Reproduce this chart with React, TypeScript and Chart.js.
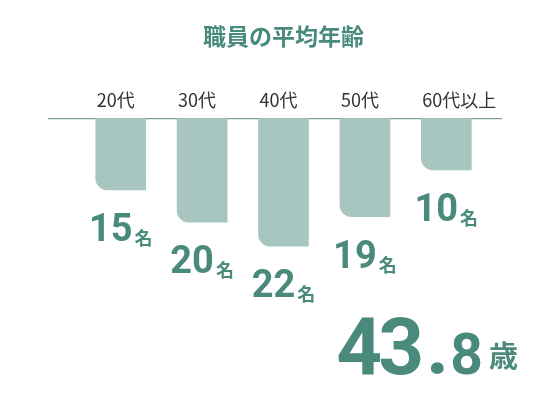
import React, { useEffect, useRef } from "react";
import { Chart, registerables } from "chart.js";

Chart.register(...registerables);

const chartTitle = "職員の平均年齢";
const ageGroups = ["20代", "30代", "40代", "50代", "60代以上"];
const staffCounts = [15, 20, 22, 19, 10];
// bar lengths as they are drawn in the picture (not strictly proportional to the counts)
const barLengths = [14, 20.3, 25, 19.2, 10.1];
const averageAge = 43.8;

const TEAL = "#4a8a7d";
const BAR_FILL = "#a7c6c0";
const NUM_FONT = "Roboto, 'Noto Sans CJK JP', sans-serif";
const JP_FONT = "'Noto Sans CJK JP', sans-serif";

const decorPlugin = {
  id: "decor",
  beforeDatasetsDraw(chart: any) {
    const { ctx, chartArea } = chart;
    ctx.save();
    ctx.strokeStyle = "#5b8880";
    ctx.lineWidth = 1;
    ctx.beginPath();
    ctx.moveTo(chartArea.left - 32, chartArea.top + 0.5);
    ctx.lineTo(chartArea.right + 15, chartArea.top + 0.5);
    ctx.stroke();
    ctx.restore();
  },
  afterDatasetsDraw(chart: any) {
    const { ctx, chartArea } = chart;
    const meta = chart.getDatasetMeta(0);
    ctx.save();
    ctx.fillStyle = TEAL;
    ctx.textBaseline = "alphabetic";
    ctx.textAlign = "left";

    meta.data.forEach((bar: any, i: number) => {
      const num = String(staffCounts[i]);
      ctx.font = `bold 38px ${NUM_FONT}`;
      const w1 = ctx.measureText(num).width;
      ctx.font = `bold 18px ${JP_FONT}`;
      const w2 = ctx.measureText("名").width;
      const gap = 2;
      const x0 = bar.x - (w1 + gap + w2) / 2;
      const base = bar.y + 51;
      ctx.font = `bold 38px ${NUM_FONT}`;
      ctx.fillText(num, x0, base);
      ctx.font = `bold 18px ${JP_FONT}`;
      ctx.fillText("名", x0 + w1 + gap, base + 4);
    });

    // average age: "43" + "." + "8" + "歳", drawn right to left
    const [intPart, decPart] = averageAge.toFixed(1).split(".");
    const base = chartArea.bottom - 26;
    let x = chartArea.right + 31;
    ctx.textAlign = "right";
    ctx.font = `bold 29px ${JP_FONT}`;
    ctx.fillText("歳", x, base - 7);
    x -= ctx.measureText("歳").width + 6;
    ctx.font = `bold 57px ${NUM_FONT}`;
    ctx.fillText(decPart, x, base);
    x -= ctx.measureText(decPart).width + 1;
    ctx.font = `bold 80px ${NUM_FONT}`;
    ctx.fillText(".", x, base);
    x -= ctx.measureText(".").width + 6;
    (ctx as any).letterSpacing = "-4px";
    ctx.fillText(intPart, x, base);
    (ctx as any).letterSpacing = "0px";
    ctx.restore();
  },
};

const App: React.FC = () => {
  const canvasRef = useRef<HTMLCanvasElement | null>(null);

  useEffect(() => {
    document.body.style.margin = "0";
    document.body.style.background = "#ffffff";
    if (!canvasRef.current) return;

    const chart = new Chart(canvasRef.current, {
      type: "bar",
      data: {
        labels: ageGroups,
        datasets: [
          {
            data: barLengths,
            backgroundColor: BAR_FILL,
            barThickness: 50,
            borderSkipped: false,
            borderRadius: { topLeft: 0, topRight: 0, bottomLeft: 12, bottomRight: 0 },
          },
        ],
      },
      options: {
        responsive: false,
        animation: false,
        layout: {
          padding: { left: 80, right: 63, top: 0, bottom: 0 },
        },
        plugins: {
          legend: { display: false },
          tooltip: { enabled: false },
          title: {
            display: true,
            text: chartTitle,
            color: TEAL,
            font: { size: 23, weight: "bold", family: JP_FONT },
            padding: { top: 22, bottom: 33 },
          },
        },
        scales: {
          x: {
            position: "top",
            grid: { display: false, drawTicks: false },
            border: { display: false },
            ticks: {
              color: "#333333",
              padding: 7,
              align: "start",
              labelOffset: -24,
              font: { size: 18, family: JP_FONT },
            },
          },
          y: {
            display: false,
            reverse: true,
            min: 0,
            max: 55,
          },
        },
      },
      plugins: [decorPlugin],
    });

    return () => {
      chart.destroy();
    };
  }, []);

  return (
    <div style={{ width: 550, height: 400 }}>
      <canvas ref={canvasRef} width={550} height={400}></canvas>
    </div>
  );
};

export default App;
